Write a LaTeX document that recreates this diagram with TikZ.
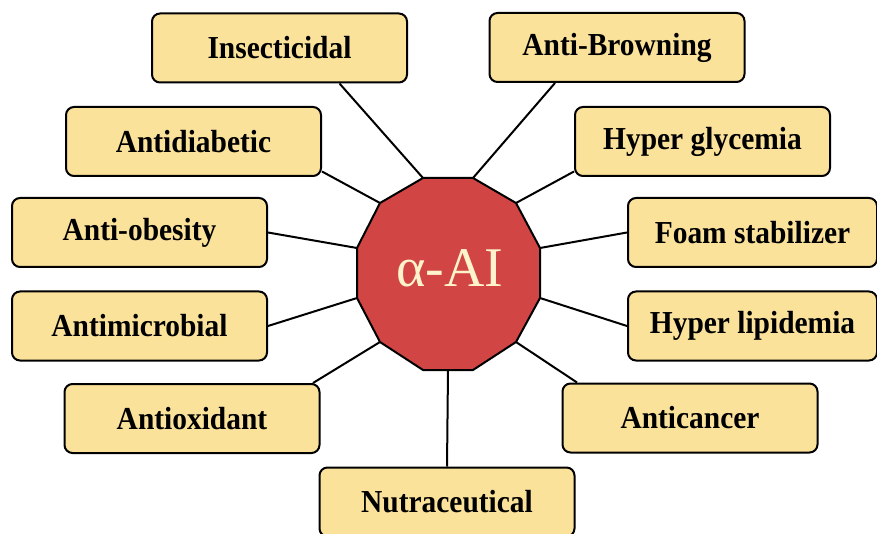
\documentclass[tikz,border=0pt]{standalone}
\usepackage{fontspec}
\setmainfont{Liberation Serif}
\newfontfamily\boxfont{Liberation Serif}[FakeStretch=0.92]
\usetikzlibrary{calc}
\definecolor{boxfill}{RGB}{251,226,155}
\definecolor{polyred}{RGB}{209,69,69}
\definecolor{cream}{RGB}{255,243,204}
\begin{document}
\begin{tikzpicture}[x=1pt,y=-1pt,
  effect/.style={draw=black, line width=2pt, fill=boxfill, rounded corners=8pt,
    minimum width=255pt, minimum height=69pt, inner sep=0pt,
    font=\boxfont\bfseries\fontsize{32}{34}\selectfont},
  link/.style={line width=2pt, draw=black}]
\clip (0,0) rectangle (877,534);
\fill[white] (0,0) rectangle (877,534);
% centre dodecagon vertices
\coordinate (p1) at (473,178);
\coordinate (p2) at (516,203);
\coordinate (p3) at (540,248);
\coordinate (p4) at (540,298);
\coordinate (p5) at (516,342);
\coordinate (p6) at (473,370);
\coordinate (p7) at (423,370);
\coordinate (p8) at (380,342);
\coordinate (p9) at (357,298);
\coordinate (p10) at (357,248);
\coordinate (p11) at (380,203);
\coordinate (p12) at (423,178);
\coordinate (pb) at (448,370);
% boxes
\node[effect] (ins)   at (279.5,48)   {Insecticidal};
\node[effect] (brown) at (617,47.5)   {Anti-Browning};
\node[effect] (diab)  at (193.5,141.5){Antidiabetic};
\node[effect] (glyc)  at (702.5,141.5){Hyper glycemia};
\node[effect, minimum width=249pt] (foam) at (752.5,232.5){Foam stabilizer};
\node[effect] (obes)  at (139.5,232.5){Anti-obesity};
\node[effect] (micro) at (139.5,326)  {Antimicrobial};
\node[effect, minimum width=249pt] (lipid) at (752.5,326){Hyper lipidemia};
\node[effect] (oxid)  at (192,418.5)  {Antioxidant};
\node[effect] (canc)  at (690,418)    {Anticancer};
\node[effect] (nutra) at (447,502)    {Nutraceutical};
% connectors
\draw[link] ($(ins.south)+(60,0)$) -- (p12);
\draw[link] ($(brown.south)+(-62,0)$) -- (p1);
\draw[link] ($(diab.east)+(0,30)$) -- (p11);
\draw[link] ($(glyc.west)+(0,30)$) -- (p2);
\draw[link] (obes.east) -- (p10);
\draw[link] (foam.west) -- (p3);
\draw[link] (micro.east) -- (p9);
\draw[link] (lipid.west) -- (p4);
\draw[link] ($(oxid.north)+(121,0)$) -- (p8);
\draw[link] ($(canc.north)+(-113,0)$) -- (p5);
\draw[link] (nutra.north) -- (pb);
% centre polygon
\draw[line width=2pt, fill=polyred, line join=round]
  (p1) -- (p2) -- (p3) -- (p4) -- (p5) -- (p6) -- (p7) -- (p8) -- (p9) -- (p10) -- (p11) -- (p12) -- cycle;
\node[text=cream, font=\fontsize{56}{60}\selectfont, inner sep=0pt] (ai) at (450,268) {α-AI};
\end{tikzpicture}
\end{document}
